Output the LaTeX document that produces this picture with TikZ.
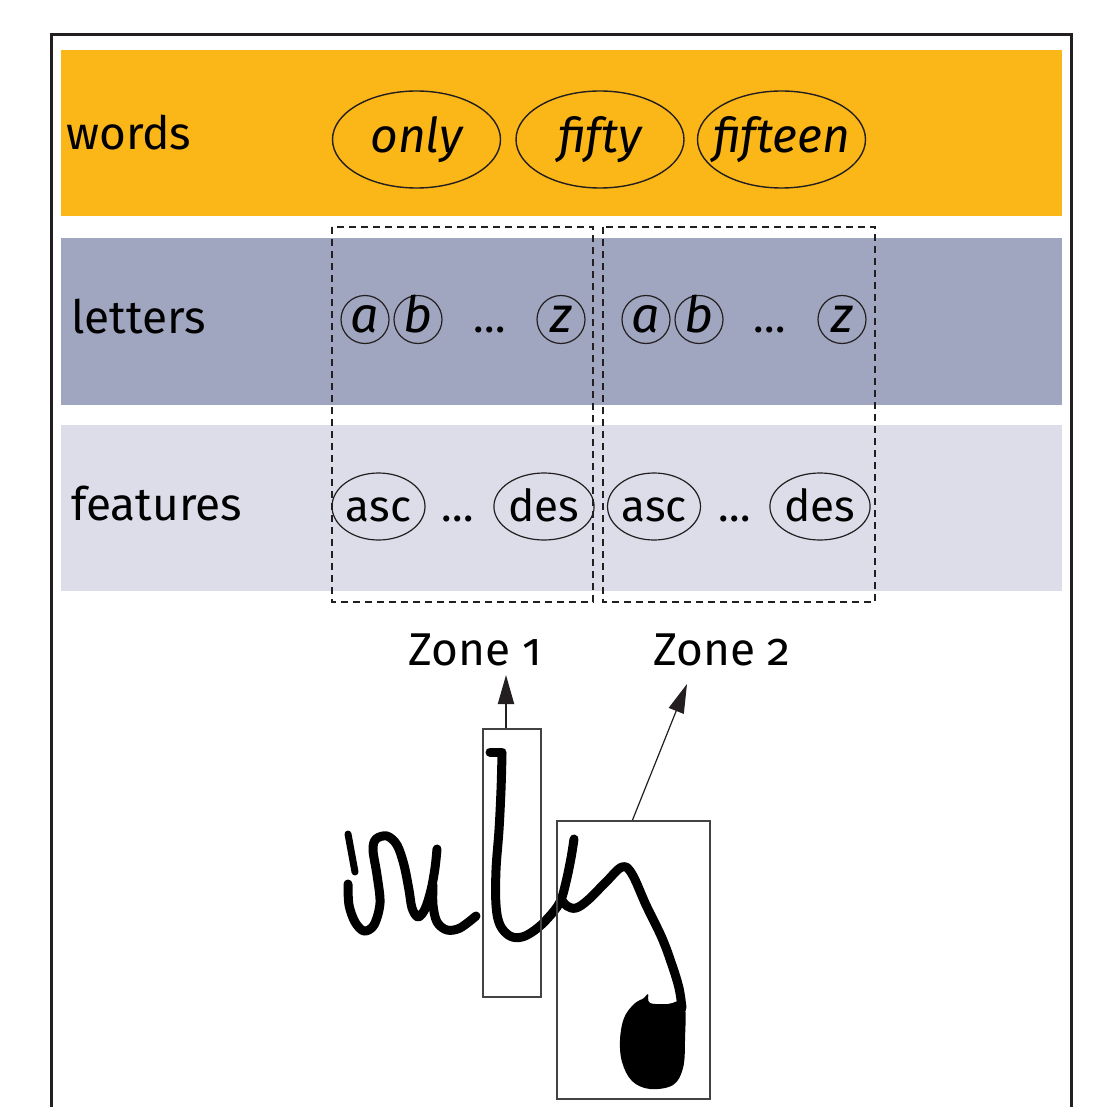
\documentclass[tikz,border=0pt]{standalone}
\usepackage{fontspec}
\setmainfont{Fira Sans}[Numbers=OldStyle]
\usetikzlibrary{shapes.geometric,arrows.meta,calc}
\definecolor{bandword}{RGB}{251,182,23}
\definecolor{bandletter}{RGB}{161,166,192}
\definecolor{bandfeat}{RGB}{220,221,233}
\definecolor{ink}{RGB}{35,31,32}

\begin{document}
\begin{tikzpicture}[x=1pt,y=-1pt,
  every node/.style={text=black},
  rowlabel/.style={anchor=base west, inner sep=0, font=\fontsize{46}{52}\selectfont},
  wordnode/.style={ellipse, draw=ink, line width=1.4pt, minimum width=168pt,
    minimum height=97pt, inner ysep=0pt, inner xsep=-22pt, text height=27pt, text depth=0pt,
    font=\fontsize{48}{54}\selectfont\itshape},
  letternode/.style={circle, draw=ink, line width=1.2pt, minimum size=48pt,
    inner sep=0, text height=26pt, text depth=0pt,
    font=\fontsize{50}{56}\selectfont\itshape},
  featnode/.style={ellipse, draw=ink, line width=1.2pt, minimum width=93pt,
    minimum height=67pt, inner sep=0, text height=29pt, text depth=0pt,
    font=\fontsize{44}{50}\selectfont},
  dotsnode/.style={anchor=base, inner sep=0, font=\fontsize{44}{50}\selectfont},
  zonelabel/.style={anchor=base, inner sep=0, font=\fontsize{46}{52}\selectfont},
  zonebox/.style={draw=ink, dash pattern=on 7pt off 5pt, line width=1.4pt},
  cropbox/.style={rectangle, draw=ink!85, line width=2pt, inner sep=0},
  pointer/.style={draw=ink, -{Triangle[length=29pt,width=16pt]}},
  pen/.style={line width=9pt, line cap=round, line join=round, draw=black}
]
\useasboundingbox (0,0) rectangle (1094,1107);

% outer frame (open at the bottom edge)
\draw[ink, line width=3pt] (51.5,1120) -- (51.5,34.5) -- (1071.5,34.5) -- (1071.5,1120);

% level bands
\fill[bandword]   (61,50)  rectangle (1062,216);
\fill[bandletter] (61,238) rectangle (1062,405);
\fill[bandfeat]   (61,425) rectangle (1062,591);

% zone groups
\draw[zonebox] (332,227) rectangle (593,602);
\draw[zonebox] (603,227) rectangle (875,602);

% row labels
\node[rowlabel] (lwords)    at (66,150) {words};
\node[rowlabel] (lletters)  at (71,333) {letters};
\node[rowlabel] (lfeatures) at (71,520) {features};

% word hypotheses
\node[wordnode] (wonly)    at (416.5,139.5) {only};
\node[wordnode] (wfifty)   at (600,139.5)   {fifty};
\node[wordnode] (wfifteen) at (781.5,139.5) {fifteen};

% letter models, zone 1
\node[letternode] (a1) at (365,319.5) {a};
\node[letternode] (b1) at (418,319.5) {b};
\node[dotsnode]   (d1) at (490,332)   {\dots};
\node[letternode] (z1) at (561,319.5) {z};
% letter models, zone 2
\node[letternode] (a2) at (646,319.5) {a};
\node[letternode] (b2) at (699,319.5) {b};
\node[dotsnode]   (d2) at (770,332)   {\dots};
\node[letternode] (z2) at (842,319.5) {z};

% feature models
\node[featnode] (asc1) at (378.5,506.5) {asc};
\node[dotsnode] (fd1)  at (458,521)     {\dots};
\node[featnode] (des1) at (544,506.5)   {des};
\node[featnode] (asc2) at (654,506.5)   {asc};
\node[dotsnode] (fd2)  at (735,521)     {\dots};
\node[featnode] (des2) at (820,506.5)   {des};

% zone captions
\node[zonelabel] (zl1) at (475,665) {Zone 1};
\node[zonelabel] (zl2) at (722,665) {Zone 2};

% handwritten word
\draw[pen, line width=7pt] (348,834) -- (355,872);
\draw[pen] plot[smooth, tension=0.55] coordinates {(348,884) (349,905) (355,922) (364,931)
  (374,925) (380,903) (377,875) (373,850) (376,839) (387,836) (397,845) (404,865)
  (409,890) (412,908) (418,917) (425,909) (431,890) (435,868) (437,849)};
\draw[pen] plot[smooth, tension=0.55] coordinates {(433,885) (433,905) (437,922) (447,930)
  (460,928) (476,916)};
\draw[pen] (490,752) -- (502,752);
\draw[pen] plot[smooth, tension=0.6] coordinates {(502,754) (501,790) (499,830) (496,870)
  (496,905) (500,925) (510,936) (522,937) (535,930) (548,918) (560,902) (566,882)
  (571,858) (574,839)};
\draw[pen] plot[smooth, tension=0.6] coordinates {(561,899) (567,906) (576,908) (588,900)
  (606,882) (622,867) (632,874) (646,905) (662,938) (672,965) (679,988) (682,1008)};
\fill[black] plot[smooth cycle, tension=0.6] coordinates {(634,1004) (644,998) (648,994)
  (650,1003) (668,1004) (684,1003) (685,1040) (683,1068) (673,1085) (650,1089)
  (632,1081) (622,1062) (620,1040) (624,1018)};

% zone crops
\node[cropbox, minimum width=58.5pt, minimum height=268.5pt] (box1) at (511.75,862.75) {};
\node[cropbox, minimum width=153pt, minimum height=278pt] (box2) at (633.5,960) {};

% pointers to the captions
\coordinate (tip1) at (506,675);
\coordinate (tip2) at (687,684);
\draw[pointer, line width=2pt] (box1.north -| tip1) -- (tip1);
\draw[pointer, line width=1.2pt] ($(box2.north)+(-1,0)$) -- (tip2);
\end{tikzpicture}
\end{document}
